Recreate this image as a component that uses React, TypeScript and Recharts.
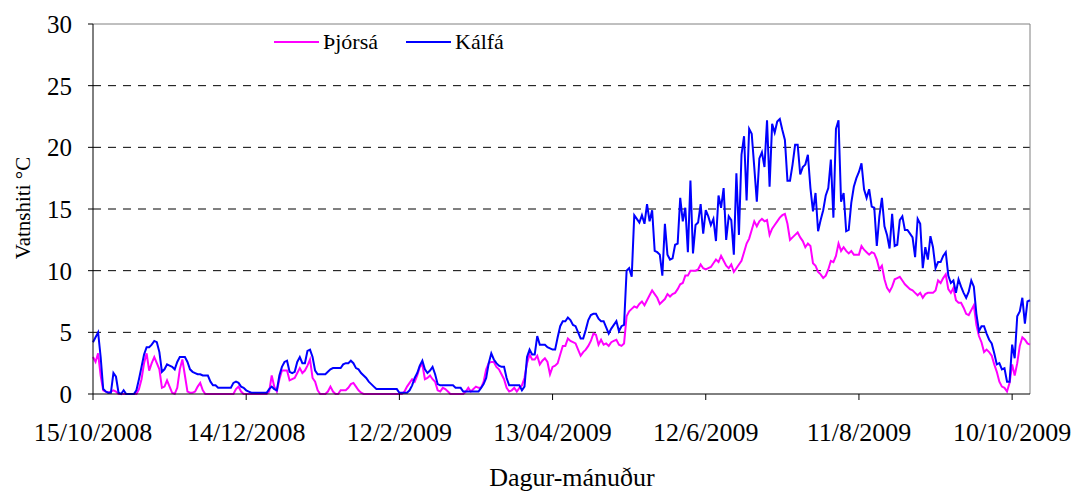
import { LineChart, Line, XAxis, YAxis, ReferenceLine, Legend, Label } from 'recharts';

const FONT = '"Liberation Serif", "Times New Roman", serif';

// x axis: day index from 15/10/2008, a tick every 60 days
const tickDays = [0, 60, 120, 180, 240, 300, 360];
const dateLabels = ['15/10/2008', '14/12/2008', '12/2/2009', '13/04/2009', '12/6/2009', '11/8/2009', '10/10/2009'];
const yTicks = [0, 5, 10, 15, 20, 25, 30];
const gridValues = [5, 10, 15, 20, 25];
const seriesNames = ['Þjórsá', 'Kálfá'];
const seriesColors = ['#FF00FF', '#0000FF'];

// daily water temperature, °C
const thjorsa = [
  3.0, 2.6, 3.3, 1.5, 0.3, 0.2, 0.1, 0.2, 0.3, 0.2,
  0, 0, 0, 0, 0, 0, 0, 0, 0.4, 1.2,
  2.5, 3.3, 1.9, 2.5, 3.0, 2.5, 2.0, 0.5, 0.6, 1.1,
  0.6, 0.1, 0, 0.5, 2.0, 2.8, 1.5, 0.2, 0.1, 0.1,
  0.2, 0.6, 0.9, 0.3, 0, 0, 0, 0, 0, 0,
  0, 0, 0, 0, 0, 0, 0.4, 0.6, 0.2, 0,
  0, 0, 0, 0, 0, 0, 0, 0, 0, 0.2,
  1.5, 0.6, 0.2, 1.2, 1.9, 1.9, 1.9, 1.1, 1.2, 1.3,
  1.7, 2.1, 1.7, 1.9, 2.3, 2.8, 1.3, 1.0, 0.3, 0,
  0, 0, 0.2, 0.6, 0.2, 0, 0, 0.3, 0.3, 0.3,
  0.5, 0.8, 0.9, 0.6, 0.3, 0.1, 0, 0, 0, 0,
  0, 0, 0, 0, 0, 0, 0, 0, 0, 0,
  0, 0, 0.2, 0.6, 0.9, 1.2, 1.0, 1.5, 2.2, 2.4,
  1.2, 1.3, 1.5, 1.2, 1.0, 0.3, 0.2, 0.5, 0.4, 0.2,
  0, 0, 0, 0, 0, 0, 0.2, 0.5, 0.2, 0.4,
  0.6, 0.5, 0.5, 1.0, 2.0, 2.5, 2.6, 2.6, 2.2, 2.0,
  1.6, 1.2, 0.5, 0.2, 0.3, 0.5, 0.2, 0.5, 0.7, 1.3,
  2.5, 3.2, 2.8, 2.8, 3.1, 2.4, 2.7, 2.9, 2.6, 1.6,
  2.2, 2.3, 2.5, 3.2, 3.9, 3.9, 4.5, 4.3, 4.2, 4.1,
  3.6, 3.1, 3.4, 3.6, 3.9, 4.3, 4.9, 4.8, 4.0, 4.4,
  4.0, 4.1, 3.9, 4.2, 4.3, 4.4, 4.0, 3.9, 4.1, 6.3,
  6.7, 6.9, 7.1, 7.0, 7.3, 7.5, 7.2, 7.6, 8.0, 8.4,
  8.1, 7.8, 7.3, 7.5, 7.7, 8.1, 7.9, 8.1, 8.2, 8.5,
  8.9, 9.0, 9.6, 9.6, 10.0, 10.0, 10.0, 10.1, 10.5, 10.2,
  10.1, 10.2, 10.3, 10.6, 10.9, 10.7, 11.2, 10.8, 10.4, 10.2,
  10.5, 9.9, 10.2, 10.5, 10.8, 11.5, 12.2, 12.6, 13.3, 14.0,
  13.6, 14.0, 14.2, 14.0, 14.1, 12.9, 13.4, 13.7, 14.0, 14.3,
  14.5, 14.6, 13.8, 12.5, 12.7, 12.9, 13.1, 12.7, 12.4, 11.9,
  12.2, 12.0, 10.6, 10.4, 9.9, 9.7, 9.4, 9.6, 10.1, 10.8,
  10.7, 11.2, 12.2, 11.6, 11.9, 11.6, 11.4, 11.6, 11.3, 11.3,
  11.3, 12.0, 11.7, 11.5, 11.3, 11.5, 11.4, 10.9, 10.1, 10.4,
  9.3, 8.6, 8.3, 8.7, 9.3, 9.4, 9.5, 9.2, 8.9, 8.7,
  8.5, 8.4, 8.2, 8.0, 8.2, 7.8, 8.1, 8.2, 8.2, 8.2,
  8.4, 9.2, 9.0, 9.4, 9.7, 8.5, 8.2, 8.6, 7.6, 7.4,
  7.4, 7.0, 6.5, 6.4, 6.8, 7.2, 5.6, 4.7, 4.2, 3.4,
  3.6, 3.4, 3.1, 2.4, 1.8, 1.0, 0.6, 0.5, 0.2, 0.9,
  2.4, 1.5, 2.5, 3.9, 4.6, 4.4, 4.1, 4.0,
];

const kalfa = [
  4.2, 4.6, 5.0, 3.0, 0.4, 0.2, 0.1, 0.1, 1.7, 1.4,
  0.1, 0.0, 0.3, 0.0, 0.0, 0.0, 0.0, 0.3, 1.2, 2.2,
  3.2, 3.8, 3.8, 4.0, 4.3, 4.2, 3.4, 1.8, 2.0, 2.4,
  2.3, 2.2, 2.0, 2.6, 3.0, 3.0, 3.0, 2.6, 2.0, 1.8,
  1.7, 1.6, 1.6, 1.5, 1.5, 1.5, 1.0, 0.7, 0.7, 0.5,
  0.5, 0.5, 0.5, 0.5, 0.5, 0.9, 1.0, 0.9, 0.6, 0.5,
  0.3, 0.2, 0.1, 0.1, 0.1, 0.1, 0.1, 0.1, 0.1, 0.4,
  0.6, 0.4, 0.3, 1.5, 2.2, 2.6, 2.7, 1.8, 1.7, 1.8,
  2.6, 3.0, 2.5, 2.5, 3.5, 3.6, 3.0, 1.9, 1.6, 1.6,
  1.6, 1.6, 1.8, 2.0, 2.1, 2.1, 2.1, 2.1, 2.4, 2.5,
  2.5, 2.7, 2.5, 2.1, 2.0, 1.7, 1.5, 1.3, 1.0, 0.8,
  0.6, 0.4, 0.4, 0.4, 0.4, 0.4, 0.4, 0.4, 0.4, 0.4,
  0.1, 0.1, 0.1, 0.1, 0.3, 0.7, 1.3, 1.7, 2.3, 2.7,
  2.0, 1.7, 1.9, 2.2, 1.6, 0.8, 0.7, 0.7, 0.7, 0.7,
  0.7, 0.7, 0.5, 0.5, 0.5, 0.2, 0.2, 0.2, 0.2, 0.2,
  0.2, 0.2, 0.5, 0.8, 1.3, 2.5, 3.3, 2.8, 2.5, 2.3,
  2.2, 2.2, 1.3, 0.7, 0.7, 0.7, 0.7, 0.7, 0.3, 0.6,
  3.0, 3.6, 3.2, 3.2, 4.7, 4.0, 4.0, 4.0, 3.8, 3.7,
  3.6, 3.6, 4.6, 5.5, 5.9, 5.9, 6.2, 6.0, 5.6, 5.5,
  5.0, 4.5, 4.5, 5.2, 6.0, 6.4, 6.5, 6.5, 6.1, 5.9,
  5.9, 5.4, 4.9, 5.3, 5.6, 5.9, 5.1, 5.5, 5.6, 10.0,
  10.2, 9.5, 14.5, 14.2, 13.9, 14.5, 13.8, 15.4, 14.0, 14.9,
  11.6, 11.5, 11.3, 9.6, 13.8, 11.3, 10.9, 11.0, 12.1, 12.2,
  15.9, 14.0, 15.1, 11.5, 17.3, 11.4, 13.7, 13.9, 15.4, 13.0,
  14.9, 14.4, 13.7, 14.2, 12.4, 16.1, 15.1, 16.7, 12.5, 14.4,
  14.1, 11.3, 17.9, 12.9, 19.4, 20.9, 15.7, 21.5, 21.1, 18.4,
  15.6, 19.1, 19.6, 18.4, 22.2, 16.8, 21.9, 21.2, 22.1, 22.3,
  21.4, 20.6, 17.3, 17.3, 18.6, 20.2, 20.2, 17.8, 18.4, 18.6,
  19.4, 16.7, 14.8, 16.3, 13.2, 14.1, 14.9, 16.1, 16.7, 19.0,
  14.3, 21.5, 22.2, 15.6, 16.3, 13.2, 13.3, 15.5, 16.8, 17.5,
  18.0, 18.7, 16.6, 15.9, 16.6, 15.2, 15.1, 12.0, 14.4, 15.9,
  13.6, 12.9, 11.8, 14.6, 12.0, 12.1, 14.1, 14.4, 13.3, 13.3,
  13.0, 12.7, 11.1, 14.2, 13.8, 10.2, 11.9, 10.9, 12.8, 11.9,
  10.2, 10.7, 10.7, 11.2, 11.5, 9.6, 9.0, 9.2, 8.2, 9.3,
  8.7, 8.2, 7.8, 8.3, 9.2, 8.7, 6.5, 5.1, 5.5, 5.5,
  4.9, 4.4, 4.1, 3.3, 2.4, 2.5, 2.0, 2.1, 1.0, 1.0,
  4.0, 2.9, 6.3, 6.7, 7.8, 5.7, 7.5, 7.6,
];

const data = kalfa.map((k, i) => ({ day: i, thjorsa: thjorsa[i], kalfa: k }));
const lastDay = kalfa.length - 1;

function LegendBox({ payload }: any) {
  const items = [...(payload || [])].sort(
    (a: any, b: any) => seriesNames.indexOf(a.value) - seriesNames.indexOf(b.value)
  );
  return (
    <div style={{ display: 'flex', alignItems: 'center', fontFamily: FONT, fontSize: 22, color: '#000' }}>
      {items.map((p: any, i: number) => (
        <div key={i} style={{ display: 'flex', alignItems: 'center', marginRight: 28 }}>
          <svg width={45} height={4} style={{ marginRight: 4 }}>
            <line x1={0} y1={2} x2={45} y2={2} stroke={p.color} strokeWidth={2} />
          </svg>
          <span>{p.value}</span>
        </div>
      ))}
    </div>
  );
}

export default function App() {
  return (
    <div style={{ position: 'absolute', left: 0, top: 0, width: 1076, height: 494, background: '#fff' }}>
      <LineChart width={1076} height={494} data={data} margin={{ top: 24, right: 46, bottom: 40, left: 0 }}>
        <XAxis
          type="number"
          dataKey="day"
          domain={[0, lastDay]}
          ticks={tickDays}
          interval={0}
          tickFormatter={(d) => dateLabels[tickDays.indexOf(d)]}
          height={60}
          tickSize={6}
          tickMargin={23}
          axisLine={{ stroke: '#000' }}
          tickLine={{ stroke: '#000' }}
          tick={{ fill: '#000', fontSize: 26, fontFamily: FONT }}
        >
          <Label
            content={() => (
              <text x={572} y={486} textAnchor="middle" fontSize={26} fontFamily={FONT} fill="#000">
                Dagur-mánuður
              </text>
            )}
          />
        </XAxis>
        <YAxis
          type="number"
          domain={[0, 30]}
          ticks={yTicks}
          interval={0}
          width={93}
          tickSize={5}
          tickMargin={16}
          axisLine={{ stroke: '#000' }}
          tickLine={{ stroke: '#000' }}
          tick={{ fill: '#000', fontSize: 25, fontFamily: FONT }}
        >
          <Label
            content={() => (
              <text
                x={23}
                y={208}
                transform="rotate(-90 23 208)"
                textAnchor="middle"
                dominantBaseline="central"
                fontSize={21}
                fontFamily={FONT}
                fill="#000"
              >
                Vatnshiti °C
              </text>
            )}
          />
        </YAxis>
        {gridValues.map((v) => (
          <ReferenceLine key={v} y={v} stroke="#000" strokeDasharray="8 7" />
        ))}
        <ReferenceLine y={30} stroke="#808080" />
        <ReferenceLine x={lastDay} stroke="#808080" />
        <Legend
          layout="horizontal"
          verticalAlign="middle"
          align="center"
          wrapperStyle={{ top: 29, left: 274, width: 'auto' }}
          content={LegendBox}
        />
        <Line type="linear" dataKey="thjorsa" name={seriesNames[0]} stroke={seriesColors[0]} strokeWidth={2} dot={false} isAnimationActive={false} />
        <Line type="linear" dataKey="kalfa" name={seriesNames[1]} stroke={seriesColors[1]} strokeWidth={2} dot={false} isAnimationActive={false} />
      </LineChart>
    </div>
  );
}
